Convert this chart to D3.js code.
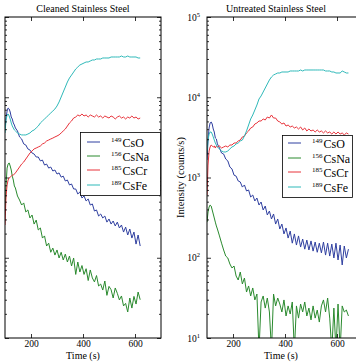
<!DOCTYPE html>
<html><head><meta charset="utf-8">
<script src="https://cdn.jsdelivr.net/npm/d3@7"></script>
<style>
body{margin:0;background:#fff}
svg{display:block}
text{font-family:"Liberation Serif","Times New Roman",Times,serif;fill:#000}
</style>
</head><body>
<svg id="c" width="356" height="364"></svg>
<script>
// ---------- data ----------
const timeCleaned = [100,104,108,112,116,120,124,128,132,136,140,148,156,164,172,180,188,196,204,212,220,228,236,244,252,260,268,276,284,292,300,308,316,324,332,340,348,356,364,372,380,388,396,404,412,420,428,436,444,452,460,468,476,484,492,500,508,516,524,532,540,548,556,564,572,580,588,596,604,612,620];
const timeUntreated = [100,104,108,112,116,120,124,128,132,136,140,148,156,164,172,180,188,196,204,212,220,228,236,244,252,260,268,276,284,292,300,308,316,324,332,340,348,356,364,372,380,388,396,404,412,420,428,436,444,452,460,468,476,484,492,500,508,516,524,532,540,548,556,564,572,580,588,596,604,612,620,628,636,644];

const cleanedCsO = [4140,5510,6740,7350,7140,6550,5670,5360,4780,4510,4140,
 3800,3200,3020,2620,2540,2270,2200,2020,1960,1800,
 1800,1610,1650,1430,1470,1310,1350,1205,1240,1105,
 1140,1010,1040,905,930,807,830,719,719,623,
 660,555,588,510,540,454,468,382,394,331,
 351,313,331,278,304,263,287,249,278,235,
 256,209,241,192,228,176,209,148,192,140];
const cleanedCsNa = [341,807,1310,1470,1520,1390,1240,1040,930,784,740,
 588,524,454,482,372,394,313,341,263,295,
 222,235,176,187,140,152,117,132,108,125,
 99.3,117,93.8,111,88.5,105,78.9,99.3,62,88.5,
 66.4,80,62,73,52,70.4,56,50,60,44.5,
 47,39.6,51.3,34,44,40,31.5,42,36,29.8,
 33.4,25.1,27,21.1,31.5,23.6,33,26.5,37.4,30];
const cleanedCsCr = [256,588,807,930,990,1010,1040,1070,1070,1105,1140,
 1240,1350,1470,1560,1700,1850,2020,2140,2270,2330,
 2400,2470,2620,2690,2850,2930,3020,3100,3200,3290,
 3400,3590,3800,4020,4380,4780,5060,5510,5670,6010,
 5840,6180,5840,6010,5670,6010,5840,5670,6010,5670,
 5840,5510,5840,5670,5510,5840,5670,5360,5670,5840,
 5510,5670,5360,5670,5510,5840,5510,5670,5360,5510];
const cleanedCsFe = [3590,5210,6010,6190,5840,5360,4780,4380,4140,3910,3800,
 3590,3480,3390,3390,3390,3480,3590,3800,3910,4140,
 4380,4780,5060,5360,5670,6010,6370,6740,7140,7780,
 8730,10070,11630,13400,15490,17370,18900,20600,22490,23820,
 25230,25960,26720,27500,27500,28300,29120,29120,29970,29970,
 29970,30840,30840,30840,30840,31740,31740,31740,31740,31740,
 32660,31740,31740,32660,31740,31740,31740,31740,30840,30840];

const untreatedCsO = [1650,2930,4140,4780,4920,4640,4020,3690,3110,3020,2620,
 2330,2020,1960,1700,1610,1350,1280,1070,1040,905,
 880,760,807,679,699,571,605,510,555,454,
 495,394,441,341,382,304,351,263,304,228,
 263,198,235,176,215,152,198,144,187,136,
 171,128,166,125,162,121,157,117,152,115,
 157,108,152,105,148,99.3,152,93.8,144,81.3,
 140,99.3,128];
const untreatedCsNa = [278,372,428,454,441,394,351,313,278,249,228,
 187,152,125,105,99.3,83.6,74.6,78.9,59.2,52.8,
 66.4,47.1,55.9,37.4,44.5,33.4,42.0,29.8,35.3,7,
 28.1,33.4,23.6,31.5,21.1,7,35.3,25.1,31.5,26.5,
 21.1,29.8,18.8,25.1,19.9,28.1,7,25.1,17.7,26.5,
 21.1,28.1,18.8,23.6,16.8,25.1,17.7,22.3,15.8,25.1,
 29.8,21.1,31.5,17.7,7,23.6,7,26.5,7,25.1,
 21.1,22.3,18.8];
const untreatedCsCr = [605,1430,2140,2400,2540,2470,2400,2470,2330,2470,2400,
 2470,2330,2400,2470,2400,2540,2540,2690,2690,2850,
 2930,3200,3290,3590,3800,4140,4260,4640,4780,5060,
 5060,5360,5210,5670,5510,6010,5510,5510,5060,4920,
 4640,4780,4380,4510,4260,4380,4140,4260,4020,4260,
 3910,4140,3800,4020,3800,3910,3690,3910,3690,3800,
 3590,3800,3590,3690,3480,3690,3480,3690,3480,3590,
 3390,3590,3480];
const untreatedCsFe = [2080,2930,3480,3690,3690,3480,3200,2930,2690,2540,2400,
 2270,2140,2080,2080,2140,2270,2400,2470,2620,2690,
 2850,2930,3290,3800,4510,5360,6010,6930,8000,9510,
 10370,11630,13040,14630,16410,17880,18920,19490,20060,20060,
 20640,20640,20640,20640,21240,21240,21240,21240,21240,21860,
 21240,21860,21860,21860,21860,21860,21860,21860,21860,21860,
 21860,21240,21240,21240,20640,20640,20060,20060,20060,21240,
 20640,20060,20060];

const isotopes = ['149','156','185','189'];
const species = ['CsO','CsNa','CsCr','CsFe'];
const colors = ['#2f3fa0','#2a8a2e','#e8323a','#2fb9b9'];
const xTicks = [200,400,600];
const yMajor = [10,100,1000,10000,100000];
const yExp = ['1','2','3','4','5'];
const yMinor = [];
[10,100,1000,10000].forEach(d=>{for(let k=2;k<=9;k++) yMinor.push(k*d);});

// ---------- drawing ----------
const svg = d3.select('#c');
const plotTop = 17, plotBottom = 338;
const y = d3.scaleLog().domain([10,100000]).range([plotBottom, plotTop]);

const panels = [
  {title:'Cleaned Stainless Steel', x0:5, x1:161, titleX:83, xlabX:83, time:timeCleaned,
   series:[cleanedCsO,cleanedCsNa,cleanedCsCr,cleanedCsFe], showY:false,
   legend:{x:80,y:132,w:80,h:63,line0:87,line1:100,supX:111,rows:[142,156,170,185]}},
  {title:'Untreated Stainless Steel', x0:207, x1:363, titleX:276, xlabX:281, time:timeUntreated,
   series:[untreatedCsO,untreatedCsNa,untreatedCsCr,untreatedCsFe], showY:true,
   legend:{x:282,y:135,w:70,h:62,line0:288,line1:301,supX:312,rows:[143,158,172,187]}}
];

panels.forEach((p,pi)=>{
  const x = d3.scaleLinear().domain([100,700]).range([p.x0,p.x1]);
  const g = svg.append('g');
  const cid = 'clip'+pi;
  svg.append('clipPath').attr('id',cid).append('rect')
     .attr('x',p.x0).attr('y',plotTop).attr('width',p.x1-p.x0).attr('height',plotBottom-plotTop);

  const line = d3.line().x((d,i)=>x(p.time[i])).y(d=>y(d));
  p.series.forEach((s,si)=>{
    g.append('path').datum(s).attr('d',line)
     .attr('fill','none').attr('stroke',colors[si]).attr('stroke-width',1)
     .attr('stroke-linejoin','round').attr('clip-path',`url(#${cid})`);
  });

  const styleAxis = sel => { sel.select('.domain').remove(); sel.selectAll('line').attr('stroke','#000').attr('stroke-width',0.8); };
  const bx = g.append('g').attr('transform',`translate(0,${plotBottom})`)
    .call(d3.axisBottom(x).tickValues(xTicks).tickSize(-4).tickPadding(2));
  styleAxis(bx);
  bx.selectAll('text').attr('font-size',9.5).attr('font-family','"Liberation Serif","Times New Roman",serif').attr('fill','#000');
  const tx = g.append('g').attr('transform',`translate(0,${plotTop})`)
    .call(d3.axisTop(x).tickValues(xTicks).tickSize(-4).tickFormat(''));
  styleAxis(tx);

  const ly = g.append('g').attr('transform',`translate(${p.x0},0)`)
    .call(d3.axisLeft(y).tickValues(yMajor).tickSize(-4).tickFormat(''));
  styleAxis(ly);
  const lym = g.append('g').attr('transform',`translate(${p.x0},0)`)
    .call(d3.axisLeft(y).tickValues(yMinor).tickSize(-2).tickFormat(''));
  styleAxis(lym);
  const ry = g.append('g').attr('transform',`translate(${p.x1},0)`)
    .call(d3.axisRight(y).tickValues(yMajor).tickSize(-4).tickFormat(''));
  styleAxis(ry);
  const rym = g.append('g').attr('transform',`translate(${p.x1},0)`)
    .call(d3.axisRight(y).tickValues(yMinor).tickSize(-2).tickFormat(''));
  styleAxis(rym);

  if(p.showY){
    yMajor.forEach((v,i)=>{
      const t = g.append('text').attr('x',p.x0-7).attr('y',y(v)+3.5)
        .attr('text-anchor','end').attr('font-size',9.5);
      t.append('tspan').text('10');
      t.append('tspan').attr('font-size',6.5).attr('dy',-4).text(yExp[i]);
    });
    g.append('text').attr('transform',`translate(${p.x0-23},${(plotTop+plotBottom)/2}) rotate(-90)`)
      .attr('text-anchor','middle').attr('font-size',10.5).text('Intensity (counts/s)');
  }

  g.append('rect').attr('x',p.x0).attr('y',plotTop).attr('width',p.x1-p.x0).attr('height',plotBottom-plotTop)
    .attr('fill','none').attr('stroke','#000').attr('stroke-width',1);

  g.append('text').attr('x',p.titleX).attr('y',12).attr('text-anchor','middle')
    .attr('font-size',10).text(p.title);
  g.append('text').attr('x',p.xlabX).attr('y',359).attr('text-anchor','middle')
    .attr('font-size',10).text('Time (s)');

  const L = p.legend;
  g.append('rect').attr('x',L.x+0.5).attr('y',L.y+0.5).attr('width',L.w).attr('height',L.h)
    .attr('fill','#fff').attr('stroke','#000').attr('stroke-width',0.8);
  species.forEach((s,i)=>{
    g.append('line').attr('x1',L.line0).attr('x2',L.line1).attr('y1',L.rows[i]).attr('y2',L.rows[i])
      .attr('stroke',colors[i]).attr('stroke-width',1);
    const t = g.append('text').attr('x',L.supX).attr('y',L.rows[i]+4.5).attr('font-size',12);
    t.append('tspan').attr('font-size',7).attr('dy',-5).text(isotopes[i]);
    t.append('tspan').attr('dy',5).attr('dx',1).text(s);
  });
});
</script>
</body></html>
